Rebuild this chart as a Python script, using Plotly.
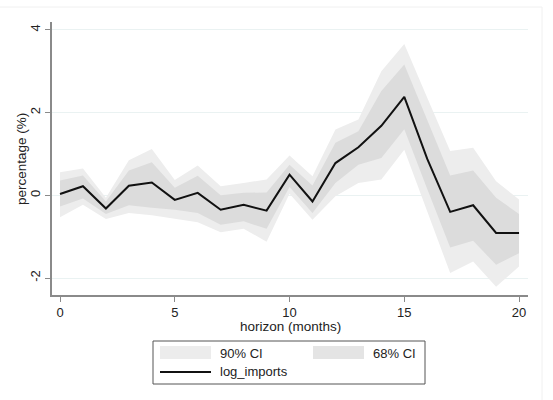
import plotly.graph_objects as go

# Impulse response of log_imports with 68% and 90% confidence bands
horizon = list(range(21))
log_imports = [0.03, 0.22, -0.32, 0.23, 0.31, -0.11, 0.06, -0.35, -0.23, -0.37,
               0.50, -0.15, 0.78, 1.16, 1.68, 2.38, 0.88, -0.40, -0.24, -0.91, -0.91]
ci68_upper = [0.36, 0.48, -0.15, 0.60, 0.80, 0.18, 0.47, 0.00, 0.06, 0.07,
              0.74, 0.24, 1.27, 1.55, 2.52, 3.16, 1.82, 0.48, 0.60, -0.06, -0.45]
ci68_lower = [-0.27, -0.08, -0.45, -0.24, -0.30, -0.35, -0.43, -0.71, -0.63, -0.81,
              0.20, -0.43, 0.30, 0.74, 0.90, 1.60, 0.15, -1.26, -1.10, -1.68, -1.40]
ci90_upper = [0.56, 0.65, -0.06, 0.85, 1.12, 0.37, 0.72, 0.22, 0.30, 0.38,
              0.96, 0.46, 1.59, 1.83, 3.00, 3.66, 2.36, 1.07, 1.15, 0.34, -0.10]
ci90_lower = [-0.53, -0.23, -0.57, -0.43, -0.48, -0.57, -0.65, -0.89, -0.81, -1.12,
              0.04, -0.59, -0.02, 0.30, 0.38, 1.10, -0.40, -1.88, -1.60, -2.21, -1.72]

x_ticks = [0, 5, 10, 15, 20]
y_ticks = [-2, 0, 2, 4]

FONT = "Arial, Liberation Sans, sans-serif"
C90 = "#ededed"
C68 = "#dcdcdc"
SW90 = "#ececec"
SW68 = "#e4e4e4"

W, H = 553, 400
L, R, T, B = 52, 25, 22, 105
PW, PH = W - L - R, H - T - B


def px(x):
    return (x - L) / PW


def py(y):
    return (H - B - y) / PH


fig = go.Figure()
fig.add_trace(go.Scatter(x=horizon, y=ci90_lower, mode="lines", line=dict(width=0),
                         hoverinfo="skip", showlegend=False))
fig.add_trace(go.Scatter(x=horizon, y=ci90_upper, mode="lines", line=dict(width=0),
                         fill="tonexty", fillcolor=C90, name="90% CI", showlegend=False))
fig.add_trace(go.Scatter(x=horizon, y=ci68_lower, mode="lines", line=dict(width=0),
                         hoverinfo="skip", showlegend=False))
fig.add_trace(go.Scatter(x=horizon, y=ci68_upper, mode="lines", line=dict(width=0),
                         fill="tonexty", fillcolor=C68, name="68% CI", showlegend=False))
fig.add_trace(go.Scatter(x=horizon, y=log_imports, mode="lines",
                         line=dict(color="#111111", width=2), name="log_imports",
                         showlegend=False))

shapes = [
    # outer graph region border
    dict(type="rect", xref="paper", yref="paper", x0=px(-2), x1=px(542), y0=py(402), y1=py(7),
         line=dict(color="#f0f0f0", width=1), layer="below"),
    # legend box
    dict(type="rect", xref="paper", yref="paper", x0=px(153), x1=px(425), y0=py(384), y1=py(341),
         line=dict(color="#555555", width=1), fillcolor="white"),
    dict(type="rect", xref="paper", yref="paper", x0=px(160), x1=px(211), y0=py(359), y1=py(346),
         line=dict(color=SW90, width=0), fillcolor=SW90),
    dict(type="rect", xref="paper", yref="paper", x0=px(313), x1=px(364), y0=py(359), y1=py(346),
         line=dict(color=SW68, width=0), fillcolor=SW68),
    dict(type="line", xref="paper", yref="paper", x0=px(160), x1=px(211), y0=py(372), y1=py(372),
         line=dict(color="#111111", width=2)),
]

annotations = [
    dict(text="90% CI", xref="paper", yref="paper", x=px(218), y=py(353), xanchor="left",
         yanchor="middle", showarrow=False, font=dict(family=FONT, size=13, color="#222")),
    dict(text="68% CI", xref="paper", yref="paper", x=px(371), y=py(353), xanchor="left",
         yanchor="middle", showarrow=False, font=dict(family=FONT, size=13, color="#222")),
    dict(text="log_imports", xref="paper", yref="paper", x=px(218), y=py(372), xanchor="left",
         yanchor="middle", showarrow=False, font=dict(family=FONT, size=13, color="#222")),
    # axis titles
    dict(text="percentage (%)", xref="paper", yref="paper", x=px(21), y=py(159),
         xanchor="center", yanchor="middle", textangle=-90, showarrow=False,
         font=dict(family=FONT, size=13.5, color="#222")),
    dict(text="horizon (months)", xref="paper", yref="paper", x=px(290), y=py(326.5),
         xanchor="center", yanchor="middle", showarrow=False,
         font=dict(family=FONT, size=13.5, color="#222")),
]

fig.update_layout(
    width=W, height=H,
    margin=dict(l=L, r=R, t=T, b=B),
    paper_bgcolor="white", plot_bgcolor="white",
    font=dict(family=FONT, size=12, color="#222222"),
    shapes=shapes, annotations=annotations,
    showlegend=False,
)
fig.update_xaxes(
    range=[-0.349, 20.39], tickvals=x_ticks, ticktext=[str(v) for v in x_ticks],
    showgrid=False, zeroline=False, showline=True, linecolor="#8a8a8a", linewidth=1.5,
    ticks="outside", ticklen=5, tickcolor="#8a8a8a", tickfont=dict(size=13),
)
fig.update_yaxes(
    range=[-2.41, 4.19], tickvals=y_ticks, ticktext=[str(v) for v in y_ticks],
    showgrid=True, gridcolor="#eaf2f2", gridwidth=1, zeroline=False,
    showline=True, linecolor="#8a8a8a", linewidth=1.5,
    ticks="outside", ticklen=5, tickcolor="#8a8a8a", tickangle=-90, tickfont=dict(size=13),
)

fig.write_html("out.html")
